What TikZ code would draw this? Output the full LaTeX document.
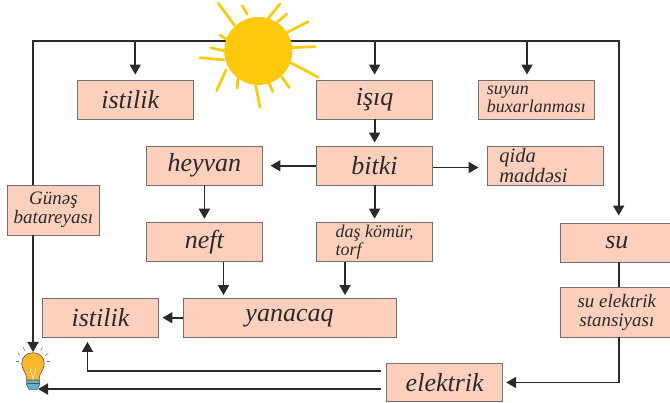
\documentclass[tikz,border=0pt]{standalone}
\usepackage{fontspec}
\setmainfont{Liberation Serif}
\usetikzlibrary{arrows.meta,calc}
\definecolor{boxfill}{HTML}{FCD0BC}
\definecolor{boxline}{HTML}{707070}
\definecolor{ink}{HTML}{2A2A2A}
\definecolor{sunc}{HTML}{FFC90B}
\definecolor{bulbc}{HTML}{FBB62B}
\definecolor{basec}{HTML}{5FB5C5}
\tikzset{
  box/.style={draw=boxline,line width=0.9pt,fill=boxfill,inner sep=0pt,text=ink,align=center,font=\fontsize{26}{26}\selectfont\itshape},
  small/.style={font=\fontsize{18}{18}\selectfont\itshape,align=left},
  smallq/.style={font=\fontsize{20.5}{17.5}\selectfont\itshape,align=left},
  smallc/.style={font=\fontsize{19}{19}\selectfont\itshape,align=center},
  conn/.style={draw=ink,line width=1.8pt},
  arr/.style={conn,-{Triangle[width=11pt,length=10pt]}},
  ray/.style={draw=sunc,line width=2.7pt,line cap=round},
  lampray/.style={draw=ink!70,line width=0.5pt}
}
\newcommand{\bx}[7][]{\node[box,minimum width=#4pt-#2pt,minimum height=#5pt-#3pt,#1] (#6) at ({(#2+#4)/2},{(#3+#5)/2}) {#7};}
\begin{document}
\begin{tikzpicture}[x=1pt,y=-1pt]
\useasboundingbox (0,0) rectangle (670,403);
\coordinate (tl) at (33,41);
\coordinate (tr) at (618.7,41);
\coordinate (lampTop) at (33,352);
\coordinate (lampBase) at (38,389);
% boxes
\bx{77}{80}{193.5}{119}{ist1}{\hspace*{-10pt}\raisebox{-1.5pt}{istilik}}
\bx{316.5}{80}{432.7}{119}{isiq}{işıq}
\bx[small]{478.3}{80}{594.3}{119}{suyun}{suyun\\buxarlanması}
\bx{146.3}{146.5}{262.5}{185}{heyvan}{heyvan}
\bx{316.5}{146.5}{432.7}{185}{bitki}{bitki}
\bx[smallq]{487}{146.5}{603}{185}{qida}{qida\\maddəsi\hspace*{23pt}}
\bx[smallc]{7.5}{185}{99.5}{235}{gunes}{Günəş\\batareyası}
\bx{146.3}{222.7}{262.5}{261.5}{neft}{neft}
\bx[small]{316.5}{222.7}{432.7}{261.5}{dask}{daş kömür,\\torf}
\bx{560.7}{223.5}{673}{262}{su}{su}
\bx[smallc]{560.7}{287.7}{673}{337}{sues}{su elektrik\\stansiyası}
\bx{183}{298.5}{396}{337}{yanacaq}{yanacaq}
\bx{42.5}{298.5}{158.5}{337}{ist2}{istilik}
\bx{386.7}{363.3}{502.7}{401.7}{elektrik}{elektrik}
% lamp
\foreach \ax/\ay/\bxx/\byy in {16/361/19/361,17.7/353.3/20/355,23.3/347.3/25/351,40.7/351/42.3/347.3,45/356/48.3/353.3,46.7/361/50/361}
  \draw[lampray] (\ax,\ay) -- (\bxx,\byy);
\fill[basec,draw=ink!80,line width=0.5pt] (26.5,380) -- (39.5,380) -- (39.5,385) -- (37,389.3) -- (29,389.3) -- (26.5,385) -- cycle;
\draw[ink!80,line width=0.5pt] (26.5,383.5) -- (39.5,383.5);
\fill[bulbc,draw=ink!80,line width=0.6pt] (27,380) .. controls (27,373) and (21.7,370) .. (21.7,363.5) .. controls (21.7,357) and (27,352.7) .. (33,352.7) .. controls (39,352.7) and (44.3,357) .. (44.3,363.5) .. controls (44.3,370) and (39,373) .. (39,380) -- cycle;
\draw[white!70!bulbc,line width=0.8pt] (30,368) -- (33,379) -- (36,368);
% connectors
\draw[conn] (gunes.north -| tl) -- (tl) -- (tr) -- ([yshift=0.9pt]tr);
\draw[arr,shorten >=5pt] (tl -| ist1.north) -- (ist1.north);
\draw[arr,shorten >=5pt] (tl -| isiq.north) -- (isiq.north);
\coordinate (sk) at ([xshift=-9.3pt]suyun.north);
\draw[arr,shorten >=5pt] (tl -| sk) -- (sk);
\draw[arr,shorten >=7.5pt] (tr) -- (su.north -| tr);
\draw[arr,shorten >=3.5pt] (isiq.south) -- (bitki.north);
\draw[arr,shorten >=7.5pt] (bitki.west) -- (heyvan.east);
\draw[arr,shorten >=8pt] ([yshift=-1.75pt]bitki.east) -- ([yshift=-1.75pt]qida.west);
\draw[arr,shorten >=3.5pt] (heyvan.south) -- (neft.north);
\draw[arr,shorten >=3.5pt] (bitki.south) -- (dask.north);
\coordinate (nk) at ([xshift=19.1pt]neft.south);
\draw[arr,shorten >=3pt] (nk) -- (nk |- yanacaq.north);
\coordinate (dk) at ([xshift=-29.6pt]dask.south);
\draw[arr,shorten >=3pt] (dk) -- (dk |- yanacaq.north);
\draw[arr,shorten >=3.5pt] (yanacaq.west) -- (ist2.east);
\draw[conn] (su.south -| tr) -- (sues.north -| tr);
\draw[arr,shorten >=3pt] (sues.south -| tr) |- (elektrik.east);
\coordinate (e1) at ([xshift=-5pt,yshift=11.2pt]elektrik.west);
\coordinate (i2) at ([xshift=-13pt]ist2.south);
\draw[arr,shorten >=4.5pt] (e1) -| (i2);
\draw[arr] ([xshift=-5pt]elektrik.west |- lampBase) -- (lampBase);
\draw[arr] (gunes.south -| tl) -- (lampTop);
% sun
\foreach \ax/\ay/\bxx/\byy in {218.3/3.3/234.3/25,242.3/5.7/247.3/14.3,280/4/268.3/18.3,286.7/14/277.3/22.3,308.3/21.7/287.3/32.3,315/46.7/291.7/47.7,318.3/77.3/290.7/62.7,289.3/87.7/281.7/76.7,272.7/91.7/269.3/83.3,260/107.3/255.7/85,237.3/88.3/237.7/79.3,216.7/90.7/226/70,200/57.7/224/60,210.7/47.7/224/50.7,220/35/226.7/39.3}
  \draw[ray] (\ax,\ay) -- (\bxx,\byy);
\fill[sunc] (258.3,51) circle (34);
\end{tikzpicture}
\end{document}
